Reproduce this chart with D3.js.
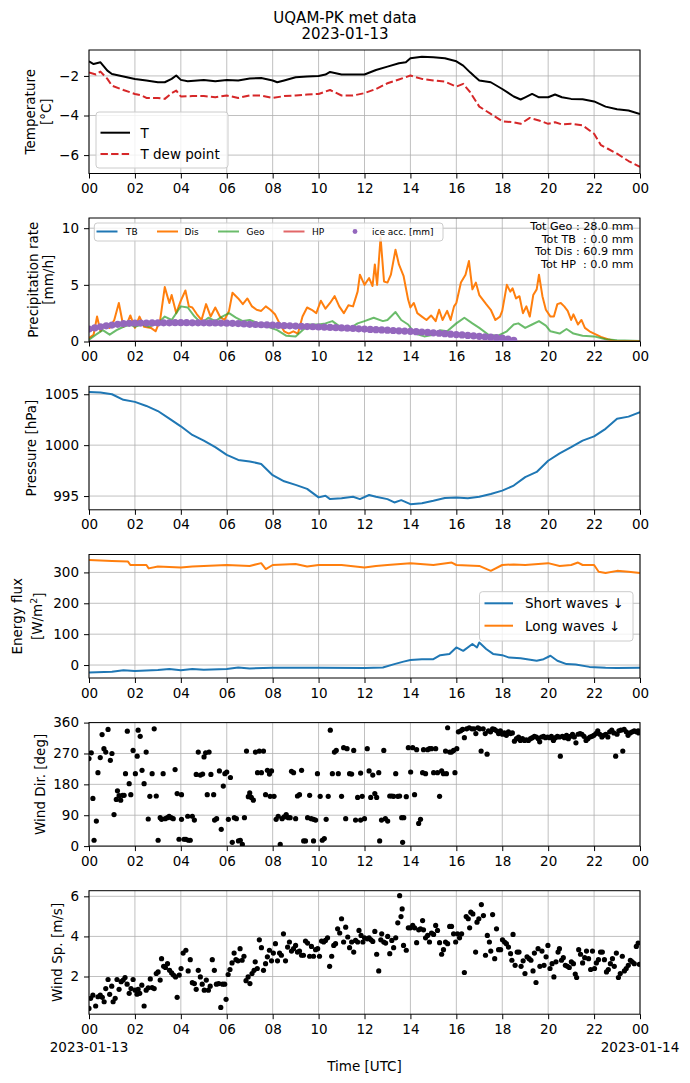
<!DOCTYPE html>
<html>
<head>
<meta charset="utf-8">
<script src="https://cdn.jsdelivr.net/npm/d3@7"></script>
<style>
  body { margin: 0; background: #fff; }
  text { font-family: "DejaVu Sans", sans-serif; }
</style>
</head>
<body>
<script>
// ---- data ----
var tempHour = [0,0.2,0.5,0.8,1,1.5,2,2.5,3,3.3,3.6,3.8,4,4.3,5,5.5,6,6.5,7,7.5,8,8.2,8.5,9,9.5,10,10.3,10.5,11,11.5,12,12.5,13,13.5,13.8,14,14.5,15,15.5,16,16.3,16.6,16.8,17,17.5,18,18.5,18.8,19,19.3,19.6,20,20.3,20.6,21,21.5,22,22.5,23,23.5,24];
var tempVal = [-1.26,-1.4,-1.31,-1.73,-1.9,-2.03,-2.15,-2.23,-2.32,-2.32,-2.15,-1.98,-2.2,-2.27,-2.2,-2.27,-2.2,-2.23,-2.13,-2.1,-2.23,-2.32,-2.23,-2.07,-2.03,-2.0,-1.93,-1.8,-1.93,-1.93,-1.93,-1.7,-1.53,-1.36,-1.31,-1.11,-1.03,-1.06,-1.11,-1.26,-1.48,-1.82,-2.03,-2.23,-2.32,-2.66,-3.04,-3.19,-3.08,-2.91,-3.08,-3.08,-2.94,-3.08,-3.16,-3.18,-3.29,-3.55,-3.68,-3.75,-3.92];
var dewHour = [0,0.3,0.5,0.8,1,1.5,2,2.3,2.5,3,3.3,3.6,3.8,4,4.5,5,5.5,6,6.5,7,7.5,8,8.5,9,9.5,10,10.5,11,11.5,12,12.5,13,13.5,14,14.5,15,15.5,16,16.3,16.6,17,17.5,18,18.5,18.8,19.2,19.6,20,20.3,20.6,21,21.5,22,22.3,22.6,23,23.5,24];
var dewVal = [-1.82,-1.93,-1.78,-2.15,-2.49,-2.71,-2.91,-2.99,-3.11,-3.11,-3.16,-2.87,-2.74,-3.04,-3.02,-3.02,-3.08,-2.99,-3.11,-2.99,-2.99,-3.11,-3.02,-2.99,-2.94,-2.91,-2.71,-2.99,-2.99,-2.87,-2.66,-2.37,-2.18,-1.98,-2.15,-2.23,-2.29,-2.54,-2.4,-2.82,-3.55,-3.92,-4.29,-4.34,-4.42,-4.12,-4.25,-4.42,-4.34,-4.45,-4.42,-4.5,-4.92,-5.5,-5.68,-5.93,-6.3,-6.6];

var disHour = [0,0.2,0.35,0.5,0.7,0.9,1.1,1.3,1.5,1.7,1.8,2.0,2.2,2.4,2.7,2.9,3.1,3.3,3.5,3.6,3.8,4.0,4.2,4.35,4.5,4.7,4.9,5.1,5.3,5.5,5.7,5.9,6.1,6.25,6.5,6.7,6.9,7.1,7.3,7.5,7.7,7.9,8.1,8.3,8.5,8.7,8.9,9.1,9.3,9.5,9.7,9.9,10.1,10.3,10.5,10.7,10.9,11.1,11.3,11.5,11.7,11.8,12.0,12.2,12.35,12.45,12.55,12.7,12.85,13.0,13.15,13.35,13.5,13.7,13.9,14.0,14.15,14.3,14.5,14.7,14.9,15.1,15.25,15.4,15.6,15.75,15.9,16.0,16.2,16.4,16.55,16.7,16.85,17.0,17.15,17.3,17.5,17.7,17.9,18.0,18.2,18.35,18.45,18.6,18.75,18.9,19.05,19.2,19.35,19.5,19.6,19.75,19.9,20.1,20.25,20.4,20.55,20.7,20.85,21.0,21.1,21.3,21.45,21.6,21.8,22.0,22.3,22.6,22.9,23.5,24];
var disVal = [0.3,0.6,2.2,0.9,1.5,1.2,1.9,3.4,1.3,1.8,2.3,1.2,2.2,1.3,1.2,0.9,1.9,4.8,3.4,4.1,2.5,3.6,4.5,3.1,3.0,2.4,1.9,3.3,2.2,3.0,2.2,1.9,2.7,4.3,3.8,3.3,3.8,3.1,2.8,2.7,3.1,2.8,2.4,1.6,0.9,0.7,0.9,0.7,2.2,3.0,2.8,2.5,3.6,2.9,3.4,4.0,3.1,2.5,3.2,3.1,4.4,5.9,5.0,5.6,4.9,6.8,5.0,9.2,5.3,5.2,5.9,8.1,6.8,5.8,3.7,3.0,3.4,2.5,2.2,1.9,2.3,1.8,2.8,1.9,2.7,1.9,3.1,3.4,5.2,5.9,7.1,4.6,5.2,4.1,3.7,3.3,2.8,1.9,2.2,2.7,5.0,4.4,4.7,3.8,4.0,2.5,3.1,2.2,4.1,4.6,5.9,4.0,2.8,2.2,2.2,3.3,3.4,3.1,2.7,1.9,2.4,1.5,1.9,1.2,0.9,0.7,0.4,0.2,0.05,0.05,0.05];
var geoHour = [0,0.3,0.6,0.9,1.2,1.5,1.8,2.0,2.3,2.6,3.0,3.3,3.6,4.0,4.3,4.6,4.9,5.2,5.5,5.8,6.1,6.4,6.7,7.0,7.4,7.8,8.2,8.6,9.0,9.3,9.6,10.0,10.3,10.6,11.0,11.4,11.7,12.0,12.4,12.8,13.0,13.35,13.6,13.9,14.2,14.6,15.0,15.3,15.6,16.0,16.35,16.7,17.0,17.4,17.8,18.2,18.5,18.7,19.0,19.3,19.6,19.9,20.1,20.5,20.8,21.1,21.5,22.0,22.5,23.0,24];
var geoVal = [0.15,0.6,1.0,0.6,1.0,1.3,1.5,1.3,1.5,1.3,1.6,2.2,1.9,3.1,3.0,2.2,1.6,2.1,1.8,2.2,2.5,2.1,1.8,1.9,1.6,1.3,1.0,0.5,0.45,1.0,1.5,1.5,1.6,1.8,1.2,1.2,1.6,1.8,2.1,1.8,1.9,2.6,1.9,1.5,0.7,0.45,0.6,1.0,0.9,1.6,2.1,1.6,1.2,0.6,0.5,0.9,1.5,1.6,1.2,1.5,1.8,1.4,0.9,0.7,1.1,0.7,0.5,0.45,0.2,0.1,0.05];
var tbHour = [0, 24], tbVal = [0, 0];
var hpHour = [0, 24], hpVal = [0, 0];
// ice accretion, one reading every 15 minutes from 00:00
var iceStep = 0.25;
var iceAcc = [1.10,1.20,1.30,1.38,1.45,1.52,1.57,1.60,1.62,1.63,1.63,1.64,1.64,1.65,1.65,1.66,1.66,1.66,1.65,1.65,1.65,1.64,1.64,1.63,1.62,1.60,1.58,1.55,1.52,1.50,1.48,1.46,1.44,1.42,1.40,1.38,1.36,1.34,1.32,1.30,1.28,1.26,1.24,1.22,1.20,1.18,1.15,1.12,1.10,1.07,1.04,1.02,1.00,0.97,0.94,0.92,0.90,0.87,0.84,0.80,0.77,0.73,0.69,0.65,0.61,0.58,0.54,0.50,0.46,0.42,0.38,0.34,0.30,0.22,0.10];
var precipTotals = ["Tot Geo : 28.0 mm", "Tot TB  : 0.0 mm", "Tot Dis : 60.9 mm", "Tot HP  : 0.0 mm"];

var presHour = [0,0.5,1,1.5,2,2.5,3,3.5,4,4.5,5,5.5,6,6.5,7,7.5,8,8.5,9,9.5,10,10.3,10.5,11,11.5,11.8,12.2,12.5,13,13.3,13.6,14,14.5,15,15.5,16,16.5,17,17.5,18,18.5,19,19.5,20,20.5,21,21.5,22,22.5,23,23.5,24];
var presVal = [1005.23,1005.17,1005.0,1004.45,1004.25,1003.85,1003.35,1002.6,1001.85,1001.0,1000.45,999.8,999.05,998.55,998.4,998.15,997.05,996.45,996.1,995.7,994.87,995.03,994.7,994.78,994.93,994.7,995.1,994.93,994.7,994.37,994.6,994.2,994.3,994.53,994.8,994.87,994.78,994.93,995.2,995.53,996.03,996.86,997.37,998.47,999.2,999.8,1000.45,1000.86,1001.6,1002.6,1002.8,1003.25];

var swHour = [0,1,1.5,2,3,3.5,4,4.5,5,6,6.5,7,8,10,12,12.8,13.3,13.7,14,14.5,15,15.3,15.7,16,16.3,16.7,16.9,17,17.3,17.6,18,18.3,18.8,19.5,19.8,20.1,20.4,20.8,21.2,21.8,22.5,23,24];
var swVal = [-24,-22,-17,-19,-16,-13,-17,-13,-15,-13,-8,-11,-9,-9,-10,-8,3,11,16,19,19,32,36,57,46,68,57,73,52,36,32,24,22,14,19,30,14,3,2,-6,-9,-10,-9];
var lwHour = [0,1,1.7,1.8,2.5,2.6,3,4,4.5,5,6,7,7.5,7.7,8,9,9.5,10,11,12,12.5,13,14,15,15.8,16,17,17.5,18,18.5,19,20,20.5,21,21.3,21.5,22,22.2,22.5,23,23.5,24];
var lwVal = [340,337,335,324,324,313,319,316,319,321,324,321,330,311,324,327,319,324,324,316,321,324,330,324,332,324,321,305,324,326,324,330,321,324,332,324,324,302,298,305,302,298];

var windDir = [[0.0,255],[0.1,272],[0.17,139],[0.22,17],[0.32,73],[0.39,214],[0.49,258],[0.57,325],[0.65,284],[0.73,274],[0.83,340],[0.93,250],[1.0,270],[1.09,92],[1.19,136],[1.24,161],[1.31,147],[1.38,134],[1.46,148],[1.53,148],[1.59,211],[1.67,335],[1.75,182],[1.82,150],[1.92,279],[2.02,211],[2.1,262],[2.14,338],[2.23,320],[2.31,221],[2.4,182],[2.49,274],[2.58,79],[2.65,145],[2.75,211],[2.84,342],[2.93,146],[3.01,17],[3.1,83],[3.16,78],[3.23,211],[3.32,80],[3.41,83],[3.49,87],[3.58,83],[3.67,80],[3.75,223],[3.84,153],[3.92,20],[4.03,150],[4.03,78],[4.14,20],[4.22,20],[4.3,87],[4.33,17],[4.41,17],[4.5,87],[4.59,76],[4.67,209],[4.76,274],[4.85,207],[4.95,210],[5.01,260],[5.08,272],[5.15,150],[5.23,274],[5.31,209],[5.43,150],[5.47,76],[5.56,80],[5.68,219],[5.76,49],[5.85,175],[5.92,211],[6.0,216],[6.07,78],[6.16,200],[6.24,11],[6.33,83],[6.42,80],[6.51,15],[6.59,17],[6.68,5],[6.77,83],[6.86,277],[6.94,144],[7.0,155],[7.07,142],[7.16,134],[7.25,274],[7.34,214],[7.42,277],[7.51,214],[7.6,277],[7.69,150],[7.77,221],[7.86,210],[7.89,145],[7.95,219],[8.06,145],[8.15,78],[8.24,87],[8.33,5],[8.41,80],[8.5,85],[8.59,92],[8.68,83],[8.76,83],[8.82,218],[8.91,214],[9.0,80],[9.08,146],[9.17,150],[9.26,221],[9.35,15],[9.43,15],[9.52,83],[9.61,148],[9.68,80],[9.78,78],[9.78,15],[9.87,76],[9.95,211],[10.07,145],[10.16,17],[10.25,22],[10.33,78],[10.42,145],[10.51,338],[10.6,211],[10.69,274],[10.77,279],[10.86,211],[11.0,145],[11.09,287],[11.18,80],[11.24,284],[11.35,211],[11.44,210],[11.53,279],[11.61,76],[11.7,142],
  [11.83,213],[11.9,145],[11.83,76],[12.0,80],[12.12,284],[12.2,219],[12.27,142],[12.36,207],[12.45,153],[12.53,142],[12.62,214],[12.66,15],[12.74,76],[12.84,279],[12.91,80],[13.01,73],[13.1,146],[13.19,146],[13.27,145],[13.36,211],[13.45,145],[13.53,146],[13.62,83],[13.66,11],[13.71,83],[13.82,144],[13.91,287],[14.01,216],[14.1,287],[14.18,150],[14.27,281],[14.36,66],[14.44,78],[14.53,214],[14.57,281],[14.66,211],[14.75,281],[14.83,284],[14.92,284],[15.01,214],[15.1,284],[15.18,214],[15.27,145],[15.36,219],[15.44,211],[15.53,277],[15.57,211],[15.62,345],[15.71,274],[15.79,274],[15.88,279],[15.94,214],[16.02,284],[16.09,333],[16.19,336],[16.27,340],[16.35,316],[16.45,342],[16.56,345],[16.68,342],[16.77,342],[16.85,328],[16.94,345],[17.02,342],[17.08,277],[17.17,342],[17.26,328],[17.34,268],[17.4,336],[17.49,333],[17.58,342],[17.66,340],[17.75,336],[17.84,328],[17.92,336],[18.01,326],[18.09,330],[18.18,323],[18.27,333],[18.36,328],[18.44,330],[18.53,306],[18.62,313],[18.71,318],[18.79,308],[18.88,313],[18.97,308],[19.05,310],[19.14,308],[19.23,313],[19.31,316],[19.4,320],[19.49,318],[19.57,313],[19.63,304],[19.71,318],[19.8,320],[19.88,316],[19.97,318],[20.06,316],[20.14,320],[20.23,308],[20.32,316],[20.4,320],[20.49,318],[20.53,262],[20.62,320],[20.71,316],[20.8,323],[20.88,313],[20.97,320],[21.06,326],[21.14,318],[21.21,301],[21.3,326],[21.39,328],[21.47,326],[21.56,320],[21.65,308],[21.73,313],[21.82,318],[21.91,320],[21.99,323],[22.08,328],[22.16,336],[22.25,326],[22.34,318],[22.42,323],[22.51,326],[22.6,318],[22.68,333],[22.77,338],[22.86,330],[22.94,262],[23.0,326],[23.08,336],[23.17,338],[23.25,277],[23.31,340],[23.4,333],[23.48,323],[23.57,330],[23.66,333],[23.75,336],[23.84,333],[23.92,336],[23.95,330]];

var windSpeed = [[0.0,0.41],[0.07,0.91],[0.17,1.07],[0.29,0.53],[0.39,0.99],[0.49,1.07],[0.58,0.96],[0.66,0.74],[0.73,1.4],[0.83,1.85],[0.9,1.11],[0.99,1.52],[1.05,0.74],[1.14,0.91],[1.22,1.85],[1.31,1.36],[1.4,1.74],[1.49,1.82],[1.57,1.95],[1.66,1.62],[1.75,1.16],[1.83,1.4],[1.92,1.85],[2.01,1.32],[2.09,1.12],[2.14,1.36],[2.21,1.16],[2.3,1.57],[2.4,0.53],[2.49,1.32],[2.58,1.44],[2.67,1.88],[2.75,1.45],[2.84,1.4],[2.93,2.15],[3.01,2.23],[3.1,1.82],[3.16,2.89],[3.25,2.51],[3.33,2.45],[3.42,2.64],[3.51,2.31],[3.6,2.18],[3.68,2.07],[3.77,1.98],[3.84,0.96],[3.93,2.07],[4.01,2.4],[4.1,3.17],[4.22,3.31],[4.32,2.28],[4.41,2.84],[4.5,1.69],[4.59,1.65],[4.67,1.36],[4.76,2.31],[4.85,1.98],[4.93,1.62],[5.02,1.32],[5.11,1.82],[5.2,1.32],[5.28,1.52],[5.37,2.84],[5.46,2.31],[5.55,1.62],[5.65,1.65],[5.74,0.46],[5.82,1.62],[5.91,1.62],[5.97,0.86],[6.06,2.1],[6.14,2.35],[6.23,2.68],[6.32,3.17],[6.4,2.84],[6.49,2.78],[6.58,3.39],[6.67,2.81],[6.75,3.01],[6.84,1.79],[6.93,1.98],[7.01,1.65],[7.1,2.15],[7.19,2.31],[7.24,2.73],[7.33,2.4],[7.42,3.83],[7.51,3.44],[7.6,2.31],[7.69,2.64],[7.77,2.98],[7.86,3.31],[7.95,2.78],[8.03,3.17],[8.12,3.64],[8.21,2.78],[8.3,3.17],[8.38,3.06],[8.47,4.13],[8.56,2.78],[8.65,3.47],[8.73,3.72],[8.82,3.27],[8.91,3.39],[9.0,3.55],[9.08,3.22],[9.17,3.27],[9.26,3.06],[9.34,3.06],[9.43,3.77],[9.52,3.67],[9.61,3.01],[9.69,3.5],[9.78,3.01],[9.87,3.34],[9.96,3.39],[10.04,3.01],[10.13,3.77],[10.22,3.72],[10.3,3.8],[10.39,3.93],[10.48,2.51],[10.57,3.01],[10.66,3.55],[10.74,3.64],[10.83,4.38],[10.92,4.17],[11.0,4.88],[11.09,3.72],[11.18,4.46],[11.27,3.97],[11.35,3.44],[11.44,3.72],[11.53,3.22],[11.61,3.8],[11.7,3.72],[11.76,4.3],[11.85,4.05],[11.93,3.72],[12.0,3.93],
  [12.12,3.88],[12.2,3.93],[12.28,3.83],[12.36,3.75],[12.45,4.25],[12.53,3.11],[12.62,2.28],[12.71,3.83],[12.75,4.13],[12.84,3.72],[12.92,3.67],[13.01,4.0],[13.1,3.14],[13.19,3.8],[13.27,3.44],[13.36,3.93],[13.45,4.68],[13.53,6.03],[13.59,4.99],[13.64,5.37],[13.7,3.55],[13.82,3.31],[13.91,4.43],[14.0,4.43],[14.1,4.55],[14.18,4.43],[14.27,3.69],[14.36,4.33],[14.44,4.38],[14.53,4.79],[14.57,4.33],[14.66,3.93],[14.75,4.05],[14.83,3.72],[14.92,4.17],[15.01,4.1],[15.1,4.55],[15.18,4.3],[15.27,3.69],[15.36,3.11],[15.44,3.34],[15.53,3.72],[15.62,3.64],[15.71,4.5],[15.79,4.5],[15.88,4.13],[15.97,3.72],[16.05,4.13],[16.14,3.93],[16.23,4.13],[16.35,2.2],[16.43,4.99],[16.52,4.88],[16.58,4.43],[16.63,5.21],[16.72,5.12],[16.84,3.22],[16.9,4.71],[16.98,4.88],[17.09,5.59],[17.18,5.04],[17.27,3.06],[17.35,4.05],[17.44,3.72],[17.5,3.27],[17.58,5.09],[17.67,2.89],[17.75,4.38],[17.84,3.34],[17.93,3.34],[18.01,3.83],[18.1,3.72],[18.18,3.64],[18.27,3.47],[18.36,3.14],[18.42,2.81],[18.47,4.1],[18.56,2.56],[18.65,3.22],[18.73,3.22],[18.82,2.51],[18.91,2.78],[18.99,2.15],[19.08,2.98],[19.17,2.89],[19.25,2.81],[19.34,2.28],[19.4,3.17],[19.47,1.7],[19.56,3.39],[19.64,2.51],[19.73,3.27],[19.82,2.56],[19.91,2.98],[19.99,3.55],[20.08,2.4],[20.17,2.64],[20.25,1.98],[20.34,2.73],[20.43,3.22],[20.49,3.39],[20.58,2.81],[20.66,2.94],[20.75,2.56],[20.84,2.51],[20.92,2.45],[21.01,2.73],[21.1,2.64],[21.18,2.12],[21.24,1.95],[21.33,3.34],[21.41,3.11],[21.5,2.68],[21.59,2.94],[21.67,3.27],[21.76,2.89],[21.85,2.35],[21.93,3.27],[22.02,2.4],[22.1,2.68],[22.19,2.84],[22.28,3.22],[22.36,3.22],[22.45,2.84],[22.54,2.23],[22.62,2.35],[22.71,2.64],[22.8,2.89],[22.88,2.51],[22.97,3.17],[23.06,1.95],[23.14,2.15],[23.23,3.01],[23.32,2.28],[23.4,2.4],[23.49,2.56],[23.58,2.81],[23.66,2.73],[23.75,2.64],[23.84,3.5],[23.92,3.67],[23.97,2.61]];

// ---- layout ----
var W = 690, H = 1083;
var xLeft = 89, xRight = 640, panelH = 123.5;
var panelTop = [50, 218, 386.3, 554.5, 722.6, 890.7];
var FONT = "DejaVu Sans, sans-serif", FS = 13.5;

var svg = d3.select("body").append("svg")
    .attr("width", W).attr("height", H)
    .style("font-family", FONT);

var x = d3.scaleLinear().domain([0, 24]).range([xLeft, xRight]);
var hourTicks = d3.range(0, 25, 2);
var hourFmt = function (h) { return h === 24 ? "00" : d3.format("02d")(h); };
var numFmt = function (v) { return String(v).replace("-", "\u2212"); };

function panel(i, yDomain, yTicks) {
    var top = panelTop[i], bottom = top + panelH;
    var y = d3.scaleLinear().domain(yDomain).range([bottom, top]);
    var g = svg.append("g");
    g.append("clipPath").attr("id", "clip" + i).append("rect")
        .attr("x", xLeft).attr("y", top).attr("width", xRight - xLeft).attr("height", panelH);

    var grid = g.append("g").attr("stroke", "#b0b0b0").attr("stroke-width", 0.8);
    grid.selectAll(".gx").data(hourTicks).enter().append("line").attr("class", "gx")
        .attr("x1", x).attr("x2", x).attr("y1", top).attr("y2", bottom);
    grid.selectAll(".gy").data(yTicks).enter().append("line").attr("class", "gy")
        .attr("x1", xLeft).attr("x2", xRight).attr("y1", y).attr("y2", y);

    var plot = g.append("g").attr("clip-path", "url(#clip" + i + ")");

    g.append("rect").attr("x", xLeft).attr("y", top)
        .attr("width", xRight - xLeft).attr("height", panelH)
        .attr("fill", "none").attr("stroke", "#000").attr("stroke-width", 1);

    var xa = g.append("g").attr("transform", "translate(0," + bottom + ")")
        .call(d3.axisBottom(x).tickValues(hourTicks).tickFormat(hourFmt).tickSize(5).tickPadding(5));
    var ya = g.append("g").attr("transform", "translate(" + xLeft + ",0)")
        .call(d3.axisLeft(y).tickValues(yTicks).tickFormat(numFmt).tickSize(5).tickPadding(5));
    [xa, ya].forEach(function (a) {
        a.select(".domain").remove();
        a.attr("font-family", FONT).attr("font-size", FS);
        a.selectAll("line").attr("stroke-width", 1);
        a.selectAll("text").attr("fill", "#000");
    });
    return { g: g, plot: plot, y: y, top: top, bottom: bottom, xAxis: xa };
}

function yLabel(p, lines, xs) {
    var cy = (p.top + p.bottom) / 2;
    lines.forEach(function (s, k) {
        var t = p.g.append("text")
            .attr("transform", "translate(" + xs[k] + "," + cy + ") rotate(-90)")
            .attr("text-anchor", "middle").attr("dy", "0.35em")
            .attr("font-size", FS);
        if (typeof s === "string") t.text(s);
        else s(t);
    });
}

function drawLine(p, hours, vals, color, width, extra) {
    var path = p.plot.append("path")
        .attr("d", d3.line().x(function (d, k) { return x(hours[k]); })
                            .y(function (d) { return p.y(d); })(vals))
        .attr("fill", "none").attr("stroke", color).attr("stroke-width", width)
        .attr("stroke-linejoin", "round");
    if (extra) extra(path);
    return path;
}

function legendBox(p, x0, y0, w, h) {
    p.g.append("rect").attr("x", x0).attr("y", y0).attr("width", w).attr("height", h)
        .attr("rx", 3).attr("fill", "#fff").attr("fill-opacity", 0.8)
        .attr("stroke", "#cccccc").attr("stroke-width", 1);
}

// ---- title ----
svg.append("text").attr("x", W / 2).attr("y", 22.5).attr("text-anchor", "middle")
    .attr("font-size", 15).text("UQAM-PK met data");
svg.append("text").attr("x", W / 2).attr("y", 39).attr("text-anchor", "middle")
    .attr("font-size", 15).text("2023-01-13");

// ---- 1: temperature ----
var p1 = panel(0, [-6.93, -0.69], [-6, -4, -2]);
drawLine(p1, tempHour, tempVal, "#000", 2);
drawLine(p1, dewHour, dewVal, "#d62728", 2, function (s) { s.attr("stroke-dasharray", "7.4,3.2"); });
yLabel(p1, ["Temperature", "[\u00b0C]"], [30, 46]);
legendBox(p1, 96, 112, 132, 56);
p1.g.append("line").attr("x1", 100.5).attr("x2", 130).attr("y1", 132.7).attr("y2", 132.7)
    .attr("stroke", "#000").attr("stroke-width", 2);
p1.g.append("line").attr("x1", 100.5).attr("x2", 130).attr("y1", 154).attr("y2", 154)
    .attr("stroke", "#d62728").attr("stroke-width", 2).attr("stroke-dasharray", "7.4,3.2");
p1.g.append("text").attr("x", 140.5).attr("y", 132.7).attr("dy", "0.36em").attr("font-size", FS).text("T");
p1.g.append("text").attr("x", 140.5).attr("y", 154).attr("dy", "0.36em").attr("font-size", FS).text("T dew point");

// ---- 2: precipitation ----
var p2 = panel(1, [0, 10.9], [0, 5, 10]);
drawLine(p2, tbHour, tbVal, "#1f77b4", 2);
drawLine(p2, disHour, disVal, "#ff7f0e", 2);
drawLine(p2, geoHour, geoVal, "#2ca02c", 2, function (s) { s.attr("stroke-opacity", 0.7); });
drawLine(p2, hpHour, hpVal, "#d62728", 2, function (s) { s.attr("stroke-opacity", 0.7); });
p2.plot.append("g").selectAll("circle").data(iceAcc).enter().append("circle")
    .attr("cx", function (d, k) { return x(k * iceStep); })
    .attr("cy", function (d) { return p2.y(d); })
    .attr("r", 3.6).attr("fill", "#9467bd");
yLabel(p2, ["Precipitation rate", "[mm/h]"], [33, 48]);
legendBox(p2, 94.3, 223, 348.7, 18);
var lg2 = [
    { name: "TB", color: "#1f77b4", op: 1, x1: 96.5, tx: 126 },
    { name: "Dis", color: "#ff7f0e", op: 1, x1: 157, tx: 184.5 },
    { name: "Geo", color: "#2ca02c", op: 0.7, x1: 218, tx: 246.5 },
    { name: "HP", color: "#d62728", op: 0.7, x1: 283.5, tx: 312 }
];
lg2.forEach(function (d) {
    p2.g.append("line").attr("x1", d.x1).attr("x2", d.x1 + 21).attr("y1", 231.5).attr("y2", 231.5)
        .attr("stroke", d.color).attr("stroke-opacity", d.op).attr("stroke-width", 2);
    p2.g.append("text").attr("x", d.tx).attr("y", 231.5).attr("dy", "0.36em")
        .attr("font-size", 9).text(d.name);
});
p2.g.append("circle").attr("cx", 355).attr("cy", 231.5).attr("r", 2.4).attr("fill", "#9467bd");
p2.g.append("text").attr("x", 372).attr("y", 231.5).attr("dy", "0.36em")
    .attr("font-size", 9).text("ice acc. [mm]");
precipTotals.forEach(function (s, k) {
    p2.g.append("text").attr("x", 633.5).attr("y", 230 + k * 12.6)
        .attr("text-anchor", "end").attr("font-size", 11.2)
        .style("white-space", "pre").text(s);
});

// ---- 3: pressure ----
var p3 = panel(2, [993.65, 1005.78], [995, 1000, 1005]);
drawLine(p3, presHour, presVal, "#1f77b4", 2);
yLabel(p3, ["Pressure [hPa]"], [31]);

// ---- 4: energy flux ----
var p4 = panel(3, [-42, 358], [0, 100, 200, 300]);
drawLine(p4, swHour, swVal, "#1f77b4", 2);
drawLine(p4, lwHour, lwVal, "#ff7f0e", 2);
yLabel(p4, ["Energy flux", function (t) {
    t.append("tspan").text("[W/m");
    t.append("tspan").attr("dy", "-0.45em").attr("font-size", FS * 0.7).text("2");
    t.append("tspan").attr("dy", "0.45em").text("]");
}], [17, 37]);
legendBox(p4, 479.5, 591.7, 153.5, 49.3);
[["Short waves \u2193", "#1f77b4", 603.3], ["Long waves \u2193", "#ff7f0e", 625.7]].forEach(function (d) {
    p4.g.append("line").attr("x1", 484.5).attr("x2", 513).attr("y1", d[2]).attr("y2", d[2])
        .attr("stroke", d[1]).attr("stroke-width", 2);
    p4.g.append("text").attr("x", 525).attr("y", d[2]).attr("dy", "0.36em")
        .attr("font-size", FS).text(d[0]);
});

// ---- 5: wind direction ----
var p5 = panel(4, [0, 360], [0, 90, 180, 270, 360]);
p5.plot.append("g").selectAll("circle").data(windDir).enter().append("circle")
    .attr("cx", function (d) { return x(d[0]); })
    .attr("cy", function (d) { return p5.y(d[1]); })
    .attr("r", 2.6).attr("fill", "#000");
yLabel(p5, ["Wind Dir. [deg]"], [40]);

// ---- 6: wind speed ----
var p6 = panel(5, [0.12, 6.28], [2, 4, 6]);
p6.plot.append("g").selectAll("circle").data(windSpeed).enter().append("circle")
    .attr("cx", function (d) { return x(d[0]); })
    .attr("cy", function (d) { return p6.y(d[1]); })
    .attr("r", 2.6).attr("fill", "#000");
yLabel(p6, ["Wind Sp. [m/s]"], [57]);

// date line under the first and last tick of the bottom axis
[[0, "2023-01-13"], [24, "2023-01-14"]].forEach(function (d) {
    svg.append("text").attr("x", x(d[0])).attr("y", 1051.5).attr("text-anchor", "middle")
        .attr("font-size", FS).text(d[1]);
});
svg.append("text").attr("x", (xLeft + xRight) / 2).attr("y", 1071).attr("text-anchor", "middle")
    .attr("font-size", FS).text("Time [UTC]");
</script>
</body>
</html>
